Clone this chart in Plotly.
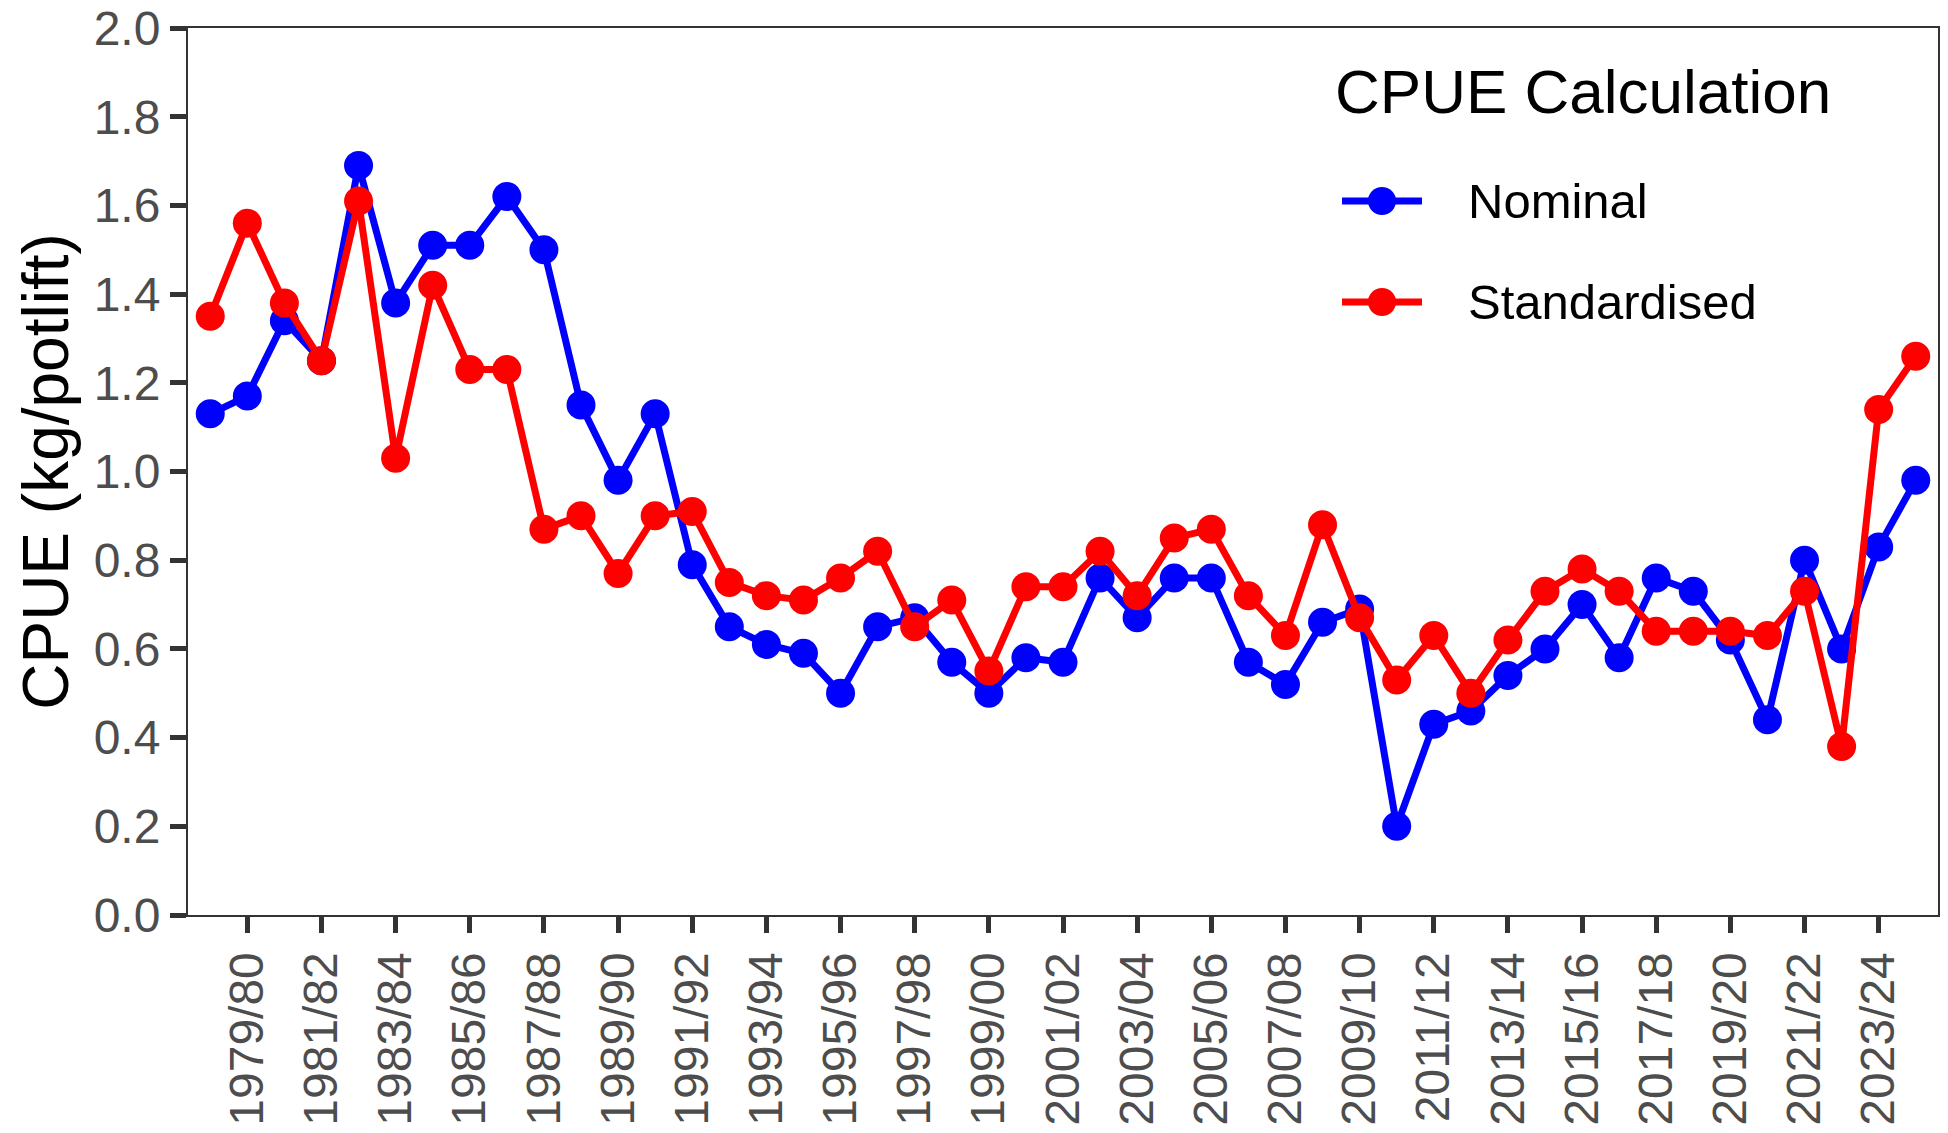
import plotly.graph_objects as go

seasons = [
    "1978/79", "1979/80", "1980/81", "1981/82", "1982/83", "1983/84", "1984/85",
    "1985/86", "1986/87", "1987/88", "1988/89", "1989/90", "1990/91", "1991/92",
    "1992/93", "1993/94", "1994/95", "1995/96", "1996/97", "1997/98", "1998/99",
    "1999/00", "2000/01", "2001/02", "2002/03", "2003/04", "2004/05", "2005/06",
    "2006/07", "2007/08", "2008/09", "2009/10", "2010/11", "2011/12", "2012/13",
    "2013/14", "2014/15", "2015/16", "2016/17", "2017/18", "2018/19", "2019/20",
    "2020/21", "2021/22", "2022/23", "2023/24", "2024/25",
]

nominal = [
    1.13, 1.17, 1.34, 1.25, 1.69, 1.38, 1.51, 1.51, 1.62, 1.50,
    1.15, 0.98, 1.13, 0.79, 0.65, 0.61, 0.59, 0.50, 0.65, 0.67,
    0.57, 0.50, 0.58, 0.57, 0.76, 0.67, 0.76, 0.76, 0.57, 0.52,
    0.66, 0.69, 0.20, 0.43, 0.46, 0.54, 0.60, 0.70, 0.58, 0.76,
    0.73, 0.62, 0.44, 0.80, 0.60, 0.83, 0.98,
]

standardised = [
    1.35, 1.56, 1.38, 1.25, 1.61, 1.03, 1.42, 1.23, 1.23, 0.87,
    0.90, 0.77, 0.90, 0.91, 0.75, 0.72, 0.71, 0.76, 0.82, 0.65,
    0.71, 0.55, 0.74, 0.74, 0.82, 0.72, 0.85, 0.87, 0.72, 0.63,
    0.88, 0.67, 0.53, 0.63, 0.50, 0.62, 0.73, 0.78, 0.73, 0.64,
    0.64, 0.64, 0.63, 0.73, 0.38, 1.14, 1.26,
]

series_names = ["Nominal", "Standardised"]
series_colors = ["#0000FF", "#FF0000"]
legend_title = "CPUE Calculation"

tick_labels = seasons[1::2]
y_ticks = [0.0, 0.2, 0.4, 0.6, 0.8, 1.0, 1.2, 1.4, 1.6, 1.8, 2.0]

FONT = "Liberation Sans, Arial, sans-serif"
AXIS_COL = "#333333"
TICK_TXT = "#4d4d4d"

# Full-window figure (the page's default body margin is removed below)
W, H = 1948, 1133
# plot area in page pixels
PX0, PX1, PY0, PY1 = 188, 1938, 28, 915
ML = PX0
MR = W - PX1
MT = PY0
MB = H - PY1
PW = PX1 - PX0
PH = PY1 - PY0

fig = go.Figure()
for name, vals, col in zip(series_names, [nominal, standardised], series_colors):
    fig.add_trace(go.Scatter(
        x=seasons, y=vals, name=name, mode="lines+markers",
        line=dict(color=col, width=7), marker=dict(color=col, size=29),
        showlegend=False,
    ))


def px_x(X):
    return (X - PX0) / PW


def px_y(Y):
    return (PY1 - Y) / PH


shapes = []
annotations = [dict(
    text=legend_title, x=px_x(1333), y=px_y(91), xref="paper", yref="paper",
    xanchor="left", yanchor="middle", showarrow=False,
    font=dict(size=62, color="black", family=FONT),
)]
item_y = [201, 302]
r = 14
for name, col, Y in zip(series_names, series_colors, item_y):
    shapes.append(dict(type="line", xref="paper", yref="paper",
                       x0=px_x(1342), x1=px_x(1422), y0=px_y(Y), y1=px_y(Y),
                       line=dict(color=col, width=7)))
    shapes.append(dict(type="circle", xref="paper", yref="paper",
                       x0=px_x(1382 - r), x1=px_x(1382 + r),
                       y0=px_y(Y + r), y1=px_y(Y - r),
                       fillcolor=col, line=dict(color=col, width=0)))
    annotations.append(dict(
        text=name, x=px_x(1466), y=px_y(Y), xref="paper", yref="paper",
        xanchor="left", yanchor="middle", showarrow=False,
        font=dict(size=49, color="black", family=FONT),
    ))

fig.update_layout(
    width=W, height=H,
    margin=dict(l=ML, r=MR, t=MT, b=MB, pad=0),
    paper_bgcolor="white", plot_bgcolor="white",
    font=dict(family=FONT, color="black"),
    showlegend=False,
    shapes=shapes, annotations=annotations,
    xaxis=dict(
        type="category", categoryorder="array", categoryarray=seasons,
        range=[-0.6, len(seasons) - 1 + 0.6],
        tickmode="array", tickvals=tick_labels, ticktext=tick_labels,
        tickangle=-90, tickfont=dict(size=48, color=TICK_TXT),
        ticks="outside", ticklen=16, tickwidth=5, tickcolor=AXIS_COL,
        showline=True, linecolor=AXIS_COL, linewidth=2, mirror=True,
        showgrid=False, zeroline=False, automargin=False,
        ticklabeloverflow="allow",
    ),
    yaxis=dict(
        range=[0, 2.0], tickmode="array", tickvals=y_ticks,
        ticktext=[f"{v:.1f}" for v in y_ticks],
        tickfont=dict(size=48, color=TICK_TXT),
        ticks="outside", ticklen=16, tickwidth=5, tickcolor=AXIS_COL,
        showline=True, linecolor=AXIS_COL, linewidth=2, mirror=True,
        showgrid=False, zeroline=False, automargin=False,
        ticklabeloverflow="allow",
        title=dict(text="CPUE (kg/potlift)", font=dict(size=64, color="black"), standoff=4),
    ),
)

fig.write_html(
    "out.html",
    config={"displayModeBar": False},
    post_script="document.body.style.margin='0';",
)
